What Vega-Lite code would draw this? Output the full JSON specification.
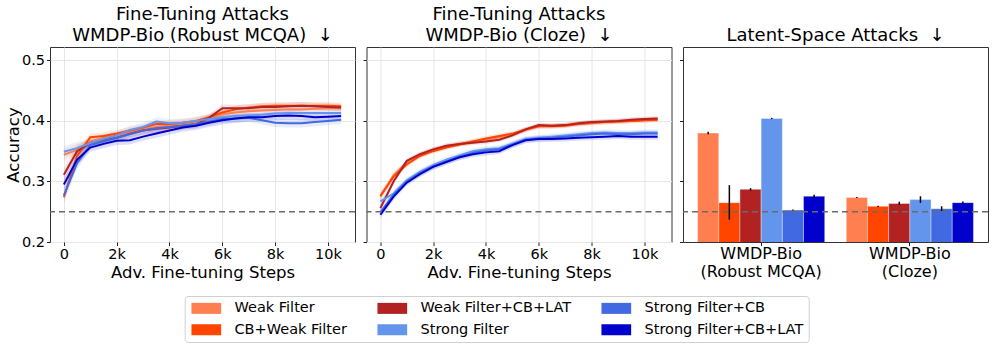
{
"$schema":"https://vega.github.io/schema/vega-lite/v6.json",
"padding":{"left":4,"top":5,"right":5,"bottom":5},
"config":{"font":"DejaVu Sans","view":{"stroke":"#333","strokeWidth":1},
"axis":{"labelFontSize":14.5,"titleFontSize":16.5,"labelColor":"#000","titleColor":"#000","tickColor":"#222","titleFontWeight":"normal","gridColor":"#e6e6e6","domain":false,"tickSize":3.5,"labelPadding":2,"titlePadding":3},
"title":{"fontSize":18,"fontWeight":"normal","color":"#000","offset":2,"lineHeight":21}},
"spacing":11.5,
"bounds":"flush",
"resolve":{"scale":{"color":"shared"}},
"datasets":{
"lines":[
{"panel":"mcqa","model":"Weak Filter","step":0,"acc":0.344,"ci":0.01},{"panel":"mcqa","model":"Weak Filter","step":500,"acc":0.352,"ci":0.01},{"panel":"mcqa","model":"Weak Filter","step":1000,"acc":0.366,"ci":0.006},{"panel":"mcqa","model":"Weak Filter","step":1500,"acc":0.372,"ci":0.006},{"panel":"mcqa","model":"Weak Filter","step":2000,"acc":0.376,"ci":0.006},{"panel":"mcqa","model":"Weak Filter","step":2500,"acc":0.382,"ci":0.006},{"panel":"mcqa","model":"Weak Filter","step":3000,"acc":0.386,"ci":0.006},{"panel":"mcqa","model":"Weak Filter","step":3500,"acc":0.390,"ci":0.006},{"panel":"mcqa","model":"Weak Filter","step":4000,"acc":0.392,"ci":0.006},{"panel":"mcqa","model":"Weak Filter","step":4500,"acc":0.395,"ci":0.006},{"panel":"mcqa","model":"Weak Filter","step":5000,"acc":0.398,"ci":0.006},{"panel":"mcqa","model":"Weak Filter","step":5500,"acc":0.404,"ci":0.006},{"panel":"mcqa","model":"Weak Filter","step":6000,"acc":0.411,"ci":0.006},{"panel":"mcqa","model":"Weak Filter","step":6500,"acc":0.414,"ci":0.006},{"panel":"mcqa","model":"Weak Filter","step":7000,"acc":0.416,"ci":0.006},{"panel":"mcqa","model":"Weak Filter","step":7500,"acc":0.417,"ci":0.006},{"panel":"mcqa","model":"Weak Filter","step":8000,"acc":0.418,"ci":0.006},{"panel":"mcqa","model":"Weak Filter","step":8500,"acc":0.419,"ci":0.006},{"panel":"mcqa","model":"Weak Filter","step":9000,"acc":0.419,"ci":0.006},{"panel":"mcqa","model":"Weak Filter","step":9500,"acc":0.420,"ci":0.006},{"panel":"mcqa","model":"Weak Filter","step":10000,"acc":0.421,"ci":0.006},{"panel":"mcqa","model":"Weak Filter","step":10500,"acc":0.421,"ci":0.006},
{"panel":"mcqa","model":"CB+Weak Filter","step":0,"acc":0.274,"ci":0.01},{"panel":"mcqa","model":"CB+Weak Filter","step":500,"acc":0.342,"ci":0.01},{"panel":"mcqa","model":"CB+Weak Filter","step":1000,"acc":0.373,"ci":0.006},{"panel":"mcqa","model":"CB+Weak Filter","step":1500,"acc":0.375,"ci":0.006},{"panel":"mcqa","model":"CB+Weak Filter","step":2000,"acc":0.379,"ci":0.006},{"panel":"mcqa","model":"CB+Weak Filter","step":2500,"acc":0.384,"ci":0.006},{"panel":"mcqa","model":"CB+Weak Filter","step":3000,"acc":0.389,"ci":0.006},{"panel":"mcqa","model":"CB+Weak Filter","step":3500,"acc":0.395,"ci":0.006},{"panel":"mcqa","model":"CB+Weak Filter","step":4000,"acc":0.395,"ci":0.006},{"panel":"mcqa","model":"CB+Weak Filter","step":4500,"acc":0.397,"ci":0.006},{"panel":"mcqa","model":"CB+Weak Filter","step":5000,"acc":0.400,"ci":0.006},{"panel":"mcqa","model":"CB+Weak Filter","step":5500,"acc":0.406,"ci":0.006},{"panel":"mcqa","model":"CB+Weak Filter","step":6000,"acc":0.414,"ci":0.006},{"panel":"mcqa","model":"CB+Weak Filter","step":6500,"acc":0.419,"ci":0.006},{"panel":"mcqa","model":"CB+Weak Filter","step":7000,"acc":0.422,"ci":0.006},{"panel":"mcqa","model":"CB+Weak Filter","step":7500,"acc":0.424,"ci":0.006},{"panel":"mcqa","model":"CB+Weak Filter","step":8000,"acc":0.425,"ci":0.006},{"panel":"mcqa","model":"CB+Weak Filter","step":8500,"acc":0.425,"ci":0.006},{"panel":"mcqa","model":"CB+Weak Filter","step":9000,"acc":0.425,"ci":0.006},{"panel":"mcqa","model":"CB+Weak Filter","step":9500,"acc":0.425,"ci":0.006},{"panel":"mcqa","model":"CB+Weak Filter","step":10000,"acc":0.425,"ci":0.006},{"panel":"mcqa","model":"CB+Weak Filter","step":10500,"acc":0.424,"ci":0.006},
{"panel":"mcqa","model":"Weak Filter+CB+LAT","step":0,"acc":0.311,"ci":0.01},{"panel":"mcqa","model":"Weak Filter+CB+LAT","step":500,"acc":0.350,"ci":0.01},{"panel":"mcqa","model":"Weak Filter+CB+LAT","step":1000,"acc":0.363,"ci":0.006},{"panel":"mcqa","model":"Weak Filter+CB+LAT","step":1500,"acc":0.368,"ci":0.006},{"panel":"mcqa","model":"Weak Filter+CB+LAT","step":2000,"acc":0.372,"ci":0.006},{"panel":"mcqa","model":"Weak Filter+CB+LAT","step":2500,"acc":0.379,"ci":0.006},{"panel":"mcqa","model":"Weak Filter+CB+LAT","step":3000,"acc":0.384,"ci":0.006},{"panel":"mcqa","model":"Weak Filter+CB+LAT","step":3500,"acc":0.387,"ci":0.006},{"panel":"mcqa","model":"Weak Filter+CB+LAT","step":4000,"acc":0.389,"ci":0.006},{"panel":"mcqa","model":"Weak Filter+CB+LAT","step":4500,"acc":0.392,"ci":0.006},{"panel":"mcqa","model":"Weak Filter+CB+LAT","step":5000,"acc":0.394,"ci":0.006},{"panel":"mcqa","model":"Weak Filter+CB+LAT","step":5500,"acc":0.405,"ci":0.006},{"panel":"mcqa","model":"Weak Filter+CB+LAT","step":6000,"acc":0.421,"ci":0.006},{"panel":"mcqa","model":"Weak Filter+CB+LAT","step":6500,"acc":0.421,"ci":0.006},{"panel":"mcqa","model":"Weak Filter+CB+LAT","step":7000,"acc":0.421,"ci":0.006},{"panel":"mcqa","model":"Weak Filter+CB+LAT","step":7500,"acc":0.423,"ci":0.006},{"panel":"mcqa","model":"Weak Filter+CB+LAT","step":8000,"acc":0.423,"ci":0.006},{"panel":"mcqa","model":"Weak Filter+CB+LAT","step":8500,"acc":0.424,"ci":0.006},{"panel":"mcqa","model":"Weak Filter+CB+LAT","step":9000,"acc":0.425,"ci":0.006},{"panel":"mcqa","model":"Weak Filter+CB+LAT","step":9500,"acc":0.424,"ci":0.006},{"panel":"mcqa","model":"Weak Filter+CB+LAT","step":10000,"acc":0.423,"ci":0.006},{"panel":"mcqa","model":"Weak Filter+CB+LAT","step":10500,"acc":0.422,"ci":0.006},
{"panel":"mcqa","model":"Strong Filter","step":0,"acc":0.349,"ci":0.01},{"panel":"mcqa","model":"Strong Filter","step":500,"acc":0.355,"ci":0.01},{"panel":"mcqa","model":"Strong Filter","step":1000,"acc":0.363,"ci":0.007},{"panel":"mcqa","model":"Strong Filter","step":1500,"acc":0.370,"ci":0.007},{"panel":"mcqa","model":"Strong Filter","step":2000,"acc":0.376,"ci":0.007},{"panel":"mcqa","model":"Strong Filter","step":2500,"acc":0.385,"ci":0.007},{"panel":"mcqa","model":"Strong Filter","step":3000,"acc":0.390,"ci":0.007},{"panel":"mcqa","model":"Strong Filter","step":3500,"acc":0.399,"ci":0.007},{"panel":"mcqa","model":"Strong Filter","step":4000,"acc":0.396,"ci":0.007},{"panel":"mcqa","model":"Strong Filter","step":4500,"acc":0.397,"ci":0.007},{"panel":"mcqa","model":"Strong Filter","step":5000,"acc":0.400,"ci":0.007},{"panel":"mcqa","model":"Strong Filter","step":5500,"acc":0.403,"ci":0.007},{"panel":"mcqa","model":"Strong Filter","step":6000,"acc":0.406,"ci":0.007},{"panel":"mcqa","model":"Strong Filter","step":6500,"acc":0.408,"ci":0.007},{"panel":"mcqa","model":"Strong Filter","step":7000,"acc":0.409,"ci":0.007},{"panel":"mcqa","model":"Strong Filter","step":7500,"acc":0.410,"ci":0.007},{"panel":"mcqa","model":"Strong Filter","step":8000,"acc":0.412,"ci":0.007},{"panel":"mcqa","model":"Strong Filter","step":8500,"acc":0.413,"ci":0.007},{"panel":"mcqa","model":"Strong Filter","step":9000,"acc":0.413,"ci":0.007},{"panel":"mcqa","model":"Strong Filter","step":9500,"acc":0.413,"ci":0.007},{"panel":"mcqa","model":"Strong Filter","step":10000,"acc":0.413,"ci":0.007},{"panel":"mcqa","model":"Strong Filter","step":10500,"acc":0.413,"ci":0.007},
{"panel":"mcqa","model":"Strong Filter+CB","step":0,"acc":0.277,"ci":0.01},{"panel":"mcqa","model":"Strong Filter+CB","step":500,"acc":0.330,"ci":0.01},{"panel":"mcqa","model":"Strong Filter+CB","step":1000,"acc":0.360,"ci":0.007},{"panel":"mcqa","model":"Strong Filter+CB","step":1500,"acc":0.366,"ci":0.007},{"panel":"mcqa","model":"Strong Filter+CB","step":2000,"acc":0.372,"ci":0.007},{"panel":"mcqa","model":"Strong Filter+CB","step":2500,"acc":0.378,"ci":0.007},{"panel":"mcqa","model":"Strong Filter+CB","step":3000,"acc":0.384,"ci":0.007},{"panel":"mcqa","model":"Strong Filter+CB","step":3500,"acc":0.388,"ci":0.007},{"panel":"mcqa","model":"Strong Filter+CB","step":4000,"acc":0.390,"ci":0.007},{"panel":"mcqa","model":"Strong Filter+CB","step":4500,"acc":0.392,"ci":0.007},{"panel":"mcqa","model":"Strong Filter+CB","step":5000,"acc":0.395,"ci":0.007},{"panel":"mcqa","model":"Strong Filter+CB","step":5500,"acc":0.399,"ci":0.007},{"panel":"mcqa","model":"Strong Filter+CB","step":6000,"acc":0.403,"ci":0.007},{"panel":"mcqa","model":"Strong Filter+CB","step":6500,"acc":0.404,"ci":0.007},{"panel":"mcqa","model":"Strong Filter+CB","step":7000,"acc":0.405,"ci":0.007},{"panel":"mcqa","model":"Strong Filter+CB","step":7500,"acc":0.401,"ci":0.007},{"panel":"mcqa","model":"Strong Filter+CB","step":8000,"acc":0.397,"ci":0.007},{"panel":"mcqa","model":"Strong Filter+CB","step":8500,"acc":0.396,"ci":0.007},{"panel":"mcqa","model":"Strong Filter+CB","step":9000,"acc":0.396,"ci":0.007},{"panel":"mcqa","model":"Strong Filter+CB","step":9500,"acc":0.398,"ci":0.007},{"panel":"mcqa","model":"Strong Filter+CB","step":10000,"acc":0.400,"ci":0.007},{"panel":"mcqa","model":"Strong Filter+CB","step":10500,"acc":0.402,"ci":0.007},
{"panel":"mcqa","model":"Strong Filter+CB+LAT","step":0,"acc":0.295,"ci":0.01},{"panel":"mcqa","model":"Strong Filter+CB+LAT","step":500,"acc":0.336,"ci":0.01},{"panel":"mcqa","model":"Strong Filter+CB+LAT","step":1000,"acc":0.356,"ci":0.007},{"panel":"mcqa","model":"Strong Filter+CB+LAT","step":1500,"acc":0.362,"ci":0.007},{"panel":"mcqa","model":"Strong Filter+CB+LAT","step":2000,"acc":0.367,"ci":0.007},{"panel":"mcqa","model":"Strong Filter+CB+LAT","step":2500,"acc":0.368,"ci":0.007},{"panel":"mcqa","model":"Strong Filter+CB+LAT","step":3000,"acc":0.374,"ci":0.007},{"panel":"mcqa","model":"Strong Filter+CB+LAT","step":3500,"acc":0.379,"ci":0.007},{"panel":"mcqa","model":"Strong Filter+CB+LAT","step":4000,"acc":0.384,"ci":0.007},{"panel":"mcqa","model":"Strong Filter+CB+LAT","step":4500,"acc":0.389,"ci":0.007},{"panel":"mcqa","model":"Strong Filter+CB+LAT","step":5000,"acc":0.392,"ci":0.007},{"panel":"mcqa","model":"Strong Filter+CB+LAT","step":5500,"acc":0.397,"ci":0.007},{"panel":"mcqa","model":"Strong Filter+CB+LAT","step":6000,"acc":0.401,"ci":0.007},{"panel":"mcqa","model":"Strong Filter+CB+LAT","step":6500,"acc":0.404,"ci":0.007},{"panel":"mcqa","model":"Strong Filter+CB+LAT","step":7000,"acc":0.406,"ci":0.007},{"panel":"mcqa","model":"Strong Filter+CB+LAT","step":7500,"acc":0.406,"ci":0.007},{"panel":"mcqa","model":"Strong Filter+CB+LAT","step":8000,"acc":0.408,"ci":0.007},{"panel":"mcqa","model":"Strong Filter+CB+LAT","step":8500,"acc":0.409,"ci":0.007},{"panel":"mcqa","model":"Strong Filter+CB+LAT","step":9000,"acc":0.408,"ci":0.007},{"panel":"mcqa","model":"Strong Filter+CB+LAT","step":9500,"acc":0.406,"ci":0.007},{"panel":"mcqa","model":"Strong Filter+CB+LAT","step":10000,"acc":0.407,"ci":0.007},{"panel":"mcqa","model":"Strong Filter+CB+LAT","step":10500,"acc":0.408,"ci":0.007},
{"panel":"cloze","model":"Weak Filter","step":0,"acc":0.275,"ci":0.006},{"panel":"cloze","model":"Weak Filter","step":500,"acc":0.310,"ci":0.006},{"panel":"cloze","model":"Weak Filter","step":1000,"acc":0.332,"ci":0.004},{"panel":"cloze","model":"Weak Filter","step":1500,"acc":0.344,"ci":0.004},{"panel":"cloze","model":"Weak Filter","step":2000,"acc":0.352,"ci":0.004},{"panel":"cloze","model":"Weak Filter","step":2500,"acc":0.358,"ci":0.004},{"panel":"cloze","model":"Weak Filter","step":3000,"acc":0.362,"ci":0.004},{"panel":"cloze","model":"Weak Filter","step":3500,"acc":0.366,"ci":0.004},{"panel":"cloze","model":"Weak Filter","step":4000,"acc":0.369,"ci":0.004},{"panel":"cloze","model":"Weak Filter","step":4500,"acc":0.373,"ci":0.004},{"panel":"cloze","model":"Weak Filter","step":5000,"acc":0.377,"ci":0.004},{"panel":"cloze","model":"Weak Filter","step":5500,"acc":0.385,"ci":0.004},{"panel":"cloze","model":"Weak Filter","step":6000,"acc":0.391,"ci":0.004},{"panel":"cloze","model":"Weak Filter","step":6500,"acc":0.392,"ci":0.004},{"panel":"cloze","model":"Weak Filter","step":7000,"acc":0.393,"ci":0.004},{"panel":"cloze","model":"Weak Filter","step":7500,"acc":0.395,"ci":0.004},{"panel":"cloze","model":"Weak Filter","step":8000,"acc":0.396,"ci":0.004},{"panel":"cloze","model":"Weak Filter","step":8500,"acc":0.398,"ci":0.004},{"panel":"cloze","model":"Weak Filter","step":9000,"acc":0.399,"ci":0.004},{"panel":"cloze","model":"Weak Filter","step":9500,"acc":0.400,"ci":0.004},{"panel":"cloze","model":"Weak Filter","step":10000,"acc":0.401,"ci":0.004},{"panel":"cloze","model":"Weak Filter","step":10500,"acc":0.402,"ci":0.004},
{"panel":"cloze","model":"CB+Weak Filter","step":0,"acc":0.276,"ci":0.006},{"panel":"cloze","model":"CB+Weak Filter","step":500,"acc":0.308,"ci":0.006},{"panel":"cloze","model":"CB+Weak Filter","step":1000,"acc":0.328,"ci":0.004},{"panel":"cloze","model":"CB+Weak Filter","step":1500,"acc":0.342,"ci":0.004},{"panel":"cloze","model":"CB+Weak Filter","step":2000,"acc":0.350,"ci":0.004},{"panel":"cloze","model":"CB+Weak Filter","step":2500,"acc":0.356,"ci":0.004},{"panel":"cloze","model":"CB+Weak Filter","step":3000,"acc":0.361,"ci":0.004},{"panel":"cloze","model":"CB+Weak Filter","step":3500,"acc":0.366,"ci":0.004},{"panel":"cloze","model":"CB+Weak Filter","step":4000,"acc":0.371,"ci":0.004},{"panel":"cloze","model":"CB+Weak Filter","step":4500,"acc":0.375,"ci":0.004},{"panel":"cloze","model":"CB+Weak Filter","step":5000,"acc":0.379,"ci":0.004},{"panel":"cloze","model":"CB+Weak Filter","step":5500,"acc":0.386,"ci":0.004},{"panel":"cloze","model":"CB+Weak Filter","step":6000,"acc":0.391,"ci":0.004},{"panel":"cloze","model":"CB+Weak Filter","step":6500,"acc":0.391,"ci":0.004},{"panel":"cloze","model":"CB+Weak Filter","step":7000,"acc":0.392,"ci":0.004},{"panel":"cloze","model":"CB+Weak Filter","step":7500,"acc":0.395,"ci":0.004},{"panel":"cloze","model":"CB+Weak Filter","step":8000,"acc":0.397,"ci":0.004},{"panel":"cloze","model":"CB+Weak Filter","step":8500,"acc":0.398,"ci":0.004},{"panel":"cloze","model":"CB+Weak Filter","step":9000,"acc":0.399,"ci":0.004},{"panel":"cloze","model":"CB+Weak Filter","step":9500,"acc":0.400,"ci":0.004},{"panel":"cloze","model":"CB+Weak Filter","step":10000,"acc":0.401,"ci":0.004},{"panel":"cloze","model":"CB+Weak Filter","step":10500,"acc":0.402,"ci":0.004},
{"panel":"cloze","model":"Weak Filter+CB+LAT","step":0,"acc":0.256,"ci":0.006},{"panel":"cloze","model":"Weak Filter+CB+LAT","step":500,"acc":0.300,"ci":0.006},{"panel":"cloze","model":"Weak Filter+CB+LAT","step":1000,"acc":0.334,"ci":0.004},{"panel":"cloze","model":"Weak Filter+CB+LAT","step":1500,"acc":0.345,"ci":0.004},{"panel":"cloze","model":"Weak Filter+CB+LAT","step":2000,"acc":0.353,"ci":0.004},{"panel":"cloze","model":"Weak Filter+CB+LAT","step":2500,"acc":0.359,"ci":0.004},{"panel":"cloze","model":"Weak Filter+CB+LAT","step":3000,"acc":0.362,"ci":0.004},{"panel":"cloze","model":"Weak Filter+CB+LAT","step":3500,"acc":0.364,"ci":0.004},{"panel":"cloze","model":"Weak Filter+CB+LAT","step":4000,"acc":0.366,"ci":0.004},{"panel":"cloze","model":"Weak Filter+CB+LAT","step":4500,"acc":0.369,"ci":0.004},{"panel":"cloze","model":"Weak Filter+CB+LAT","step":5000,"acc":0.376,"ci":0.004},{"panel":"cloze","model":"Weak Filter+CB+LAT","step":5500,"acc":0.386,"ci":0.004},{"panel":"cloze","model":"Weak Filter+CB+LAT","step":6000,"acc":0.393,"ci":0.004},{"panel":"cloze","model":"Weak Filter+CB+LAT","step":6500,"acc":0.392,"ci":0.004},{"panel":"cloze","model":"Weak Filter+CB+LAT","step":7000,"acc":0.393,"ci":0.004},{"panel":"cloze","model":"Weak Filter+CB+LAT","step":7500,"acc":0.396,"ci":0.004},{"panel":"cloze","model":"Weak Filter+CB+LAT","step":8000,"acc":0.398,"ci":0.004},{"panel":"cloze","model":"Weak Filter+CB+LAT","step":8500,"acc":0.399,"ci":0.004},{"panel":"cloze","model":"Weak Filter+CB+LAT","step":9000,"acc":0.400,"ci":0.004},{"panel":"cloze","model":"Weak Filter+CB+LAT","step":9500,"acc":0.402,"ci":0.004},{"panel":"cloze","model":"Weak Filter+CB+LAT","step":10000,"acc":0.403,"ci":0.004},{"panel":"cloze","model":"Weak Filter+CB+LAT","step":10500,"acc":0.404,"ci":0.004},
{"panel":"cloze","model":"Strong Filter","step":0,"acc":0.267,"ci":0.006},{"panel":"cloze","model":"Strong Filter","step":500,"acc":0.280,"ci":0.006},{"panel":"cloze","model":"Strong Filter","step":1000,"acc":0.302,"ci":0.005},{"panel":"cloze","model":"Strong Filter","step":1500,"acc":0.316,"ci":0.005},{"panel":"cloze","model":"Strong Filter","step":2000,"acc":0.327,"ci":0.005},{"panel":"cloze","model":"Strong Filter","step":2500,"acc":0.336,"ci":0.005},{"panel":"cloze","model":"Strong Filter","step":3000,"acc":0.343,"ci":0.005},{"panel":"cloze","model":"Strong Filter","step":3500,"acc":0.350,"ci":0.005},{"panel":"cloze","model":"Strong Filter","step":4000,"acc":0.353,"ci":0.005},{"panel":"cloze","model":"Strong Filter","step":4500,"acc":0.355,"ci":0.005},{"panel":"cloze","model":"Strong Filter","step":5000,"acc":0.362,"ci":0.005},{"panel":"cloze","model":"Strong Filter","step":5500,"acc":0.370,"ci":0.005},{"panel":"cloze","model":"Strong Filter","step":6000,"acc":0.372,"ci":0.005},{"panel":"cloze","model":"Strong Filter","step":6500,"acc":0.374,"ci":0.005},{"panel":"cloze","model":"Strong Filter","step":7000,"acc":0.376,"ci":0.005},{"panel":"cloze","model":"Strong Filter","step":7500,"acc":0.378,"ci":0.005},{"panel":"cloze","model":"Strong Filter","step":8000,"acc":0.380,"ci":0.005},{"panel":"cloze","model":"Strong Filter","step":8500,"acc":0.381,"ci":0.005},{"panel":"cloze","model":"Strong Filter","step":9000,"acc":0.380,"ci":0.005},{"panel":"cloze","model":"Strong Filter","step":9500,"acc":0.380,"ci":0.005},{"panel":"cloze","model":"Strong Filter","step":10000,"acc":0.381,"ci":0.005},{"panel":"cloze","model":"Strong Filter","step":10500,"acc":0.381,"ci":0.005},
{"panel":"cloze","model":"Strong Filter+CB","step":0,"acc":0.249,"ci":0.006},{"panel":"cloze","model":"Strong Filter+CB","step":500,"acc":0.278,"ci":0.006},{"panel":"cloze","model":"Strong Filter+CB","step":1000,"acc":0.300,"ci":0.005},{"panel":"cloze","model":"Strong Filter+CB","step":1500,"acc":0.314,"ci":0.005},{"panel":"cloze","model":"Strong Filter+CB","step":2000,"acc":0.325,"ci":0.005},{"panel":"cloze","model":"Strong Filter+CB","step":2500,"acc":0.333,"ci":0.005},{"panel":"cloze","model":"Strong Filter+CB","step":3000,"acc":0.341,"ci":0.005},{"panel":"cloze","model":"Strong Filter+CB","step":3500,"acc":0.347,"ci":0.005},{"panel":"cloze","model":"Strong Filter+CB","step":4000,"acc":0.351,"ci":0.005},{"panel":"cloze","model":"Strong Filter+CB","step":4500,"acc":0.353,"ci":0.005},{"panel":"cloze","model":"Strong Filter+CB","step":5000,"acc":0.361,"ci":0.005},{"panel":"cloze","model":"Strong Filter+CB","step":5500,"acc":0.369,"ci":0.005},{"panel":"cloze","model":"Strong Filter+CB","step":6000,"acc":0.371,"ci":0.005},{"panel":"cloze","model":"Strong Filter+CB","step":6500,"acc":0.372,"ci":0.005},{"panel":"cloze","model":"Strong Filter+CB","step":7000,"acc":0.374,"ci":0.005},{"panel":"cloze","model":"Strong Filter+CB","step":7500,"acc":0.376,"ci":0.005},{"panel":"cloze","model":"Strong Filter+CB","step":8000,"acc":0.378,"ci":0.005},{"panel":"cloze","model":"Strong Filter+CB","step":8500,"acc":0.379,"ci":0.005},{"panel":"cloze","model":"Strong Filter+CB","step":9000,"acc":0.378,"ci":0.005},{"panel":"cloze","model":"Strong Filter+CB","step":9500,"acc":0.378,"ci":0.005},{"panel":"cloze","model":"Strong Filter+CB","step":10000,"acc":0.379,"ci":0.005},{"panel":"cloze","model":"Strong Filter+CB","step":10500,"acc":0.379,"ci":0.005},
{"panel":"cloze","model":"Strong Filter+CB+LAT","step":0,"acc":0.245,"ci":0.006},{"panel":"cloze","model":"Strong Filter+CB+LAT","step":500,"acc":0.275,"ci":0.006},{"panel":"cloze","model":"Strong Filter+CB+LAT","step":1000,"acc":0.298,"ci":0.005},{"panel":"cloze","model":"Strong Filter+CB+LAT","step":1500,"acc":0.312,"ci":0.005},{"panel":"cloze","model":"Strong Filter+CB+LAT","step":2000,"acc":0.324,"ci":0.005},{"panel":"cloze","model":"Strong Filter+CB+LAT","step":2500,"acc":0.332,"ci":0.005},{"panel":"cloze","model":"Strong Filter+CB+LAT","step":3000,"acc":0.340,"ci":0.005},{"panel":"cloze","model":"Strong Filter+CB+LAT","step":3500,"acc":0.345,"ci":0.005},{"panel":"cloze","model":"Strong Filter+CB+LAT","step":4000,"acc":0.348,"ci":0.005},{"panel":"cloze","model":"Strong Filter+CB+LAT","step":4500,"acc":0.350,"ci":0.005},{"panel":"cloze","model":"Strong Filter+CB+LAT","step":5000,"acc":0.360,"ci":0.005},{"panel":"cloze","model":"Strong Filter+CB+LAT","step":5500,"acc":0.368,"ci":0.005},{"panel":"cloze","model":"Strong Filter+CB+LAT","step":6000,"acc":0.370,"ci":0.005},{"panel":"cloze","model":"Strong Filter+CB+LAT","step":6500,"acc":0.370,"ci":0.005},{"panel":"cloze","model":"Strong Filter+CB+LAT","step":7000,"acc":0.371,"ci":0.005},{"panel":"cloze","model":"Strong Filter+CB+LAT","step":7500,"acc":0.372,"ci":0.005},{"panel":"cloze","model":"Strong Filter+CB+LAT","step":8000,"acc":0.373,"ci":0.005},{"panel":"cloze","model":"Strong Filter+CB+LAT","step":8500,"acc":0.374,"ci":0.005},{"panel":"cloze","model":"Strong Filter+CB+LAT","step":9000,"acc":0.375,"ci":0.005},{"panel":"cloze","model":"Strong Filter+CB+LAT","step":9500,"acc":0.374,"ci":0.005},{"panel":"cloze","model":"Strong Filter+CB+LAT","step":10000,"acc":0.374,"ci":0.005},{"panel":"cloze","model":"Strong Filter+CB+LAT","step":10500,"acc":0.374,"ci":0.005}
],
"bars":[
{"bench":"Robust MCQA","model":"Weak Filter","acc":0.380,"lo":0.378,"hi":0.382},
{"bench":"Robust MCQA","model":"CB+Weak Filter","acc":0.265,"lo":0.237,"hi":0.294},
{"bench":"Robust MCQA","model":"Weak Filter+CB+LAT","acc":0.287,"lo":0.285,"hi":0.289},
{"bench":"Robust MCQA","model":"Strong Filter","acc":0.404,"lo":0.403,"hi":0.405},
{"bench":"Robust MCQA","model":"Strong Filter+CB","acc":0.2527,"lo":0.252,"hi":0.2535},
{"bench":"Robust MCQA","model":"Strong Filter+CB+LAT","acc":0.2757,"lo":0.273,"hi":0.278},
{"bench":"Cloze","model":"Weak Filter","acc":0.2735,"lo":0.2725,"hi":0.2745},
{"bench":"Cloze","model":"CB+Weak Filter","acc":0.259,"lo":0.258,"hi":0.260},
{"bench":"Cloze","model":"Weak Filter+CB+LAT","acc":0.2636,"lo":0.261,"hi":0.2665},
{"bench":"Cloze","model":"Strong Filter","acc":0.270,"lo":0.2645,"hi":0.2755},
{"bench":"Cloze","model":"Strong Filter+CB","acc":0.255,"lo":0.251,"hi":0.259},
{"bench":"Cloze","model":"Strong Filter+CB+LAT","acc":0.265,"lo":0.263,"hi":0.267}
],
"chance":[{"acc":0.25}]
},
"hconcat":[
{
"width":305,"height":195,
"title":{"text":["Fine-Tuning Attacks","WMDP-Bio (Robust MCQA)\u00a0\u00a0↓"]},
"layer":[
{"data":{"name":"lines"},"transform":[{"filter":"datum.panel == 'mcqa'"}],
"mark":{"type":"errorband","opacity":0.13},
"encoding":{
"x":{"field":"step","type":"quantitative","scale":{"domain":[-525,11025],"nice":false,"zero":false},"axis":{"values":[0,2000,4000,6000,8000,10000],"labelExpr":"datum.value == 0 ? '0' : (datum.value/1000) + 'k'","title":"Adv. Fine-tuning Steps","grid":true}},
"y":{"field":"acc","type":"quantitative","scale":{"domain":[0.2,0.522],"nice":false,"zero":false},"axis":{"values":[0.2,0.25,0.3,0.35,0.4,0.45,0.5],"labelExpr":"abs(datum.value*10 - round(datum.value*10)) < 0.01 ? format(datum.value, '.1f') : ''","title":"Accuracy","titlePadding":0,"grid":true}},
"yError":{"field":"ci"},
"color":{"field":"model","type":"nominal","scale":{"domain":["Weak Filter","CB+Weak Filter","Weak Filter+CB+LAT","Strong Filter","Strong Filter+CB","Strong Filter+CB+LAT"],"range":["#FF7F50","#FF4500","#B22222","#6495ED","#4169E1","#0000CD"]},
"legend":{"orient":"none","legendX":134.7,"legendY":249,"columns":3,"title":null,"symbolType":"M-1,-1H4.4V1H-1Z","symbolSize":121,"symbolStrokeWidth":0,"symbolOpacity":1,"labelFontSize":14.5,"labelColor":"#000","labelLimit":0,"strokeColor":"#d0d0d0","cornerRadius":3,"padding":5,"fillColor":"white","columnPadding":28,"rowPadding":6.5,"labelOffset":30.3,
"encode":{"symbols":{"update":{"fill":{"scale":"color","field":"value"},"stroke":{"value":"transparent"},"opacity":{"value":1},"fillOpacity":{"value":1}}}}}}
}},
{"data":{"name":"lines"},"transform":[{"filter":"datum.panel == 'mcqa'"}],
"mark":{"type":"line","strokeWidth":2,"clip":true},
"encoding":{"x":{"field":"step","type":"quantitative"},"y":{"field":"acc","type":"quantitative"},"color":{"field":"model","type":"nominal"}}},
{"data":{"name":"chance"},"mark":{"type":"rule","strokeDash":[6,4],"color":"#6b6b6b","strokeWidth":1.5},"encoding":{"y":{"field":"acc","type":"quantitative"}}}
]
},
{
"width":305,"height":195,
"title":{"text":["Fine-Tuning Attacks","WMDP-Bio (Cloze)\u00a0\u00a0↓"]},
"layer":[
{"data":{"name":"lines"},"transform":[{"filter":"datum.panel == 'cloze'"}],
"mark":{"type":"errorband","opacity":0.13},
"encoding":{
"x":{"field":"step","type":"quantitative","scale":{"domain":[-525,11025],"nice":false,"zero":false},"axis":{"values":[0,2000,4000,6000,8000,10000],"labelExpr":"datum.value == 0 ? '0' : (datum.value/1000) + 'k'","title":"Adv. Fine-tuning Steps","grid":true}},
"y":{"field":"acc","type":"quantitative","scale":{"domain":[0.2,0.522],"nice":false,"zero":false},"axis":{"values":[0.2,0.25,0.3,0.35,0.4,0.45,0.5],"labels":false,"title":null,"grid":true}},
"yError":{"field":"ci"},
"color":{"field":"model","type":"nominal"}
}},
{"data":{"name":"lines"},"transform":[{"filter":"datum.panel == 'cloze'"}],
"mark":{"type":"line","strokeWidth":2,"clip":true},
"encoding":{"x":{"field":"step","type":"quantitative"},"y":{"field":"acc","type":"quantitative"},"color":{"field":"model","type":"nominal"}}},
{"data":{"name":"chance"},"mark":{"type":"rule","strokeDash":[6,4],"color":"#6b6b6b","strokeWidth":1.5},"encoding":{"y":{"field":"acc","type":"quantitative"}}}
]
},
{
"width":305,"height":195,
"title":{"text":"Latent-Space Attacks\u00a0\u00a0↓"},
"layer":[
{"data":{"name":"bars"},
"mark":{"type":"bar","clip":true,"stroke":"#ffffff","strokeOpacity":0.6,"strokeWidth":0.6},
"encoding":{
"x":{"field":"bench","type":"nominal","sort":["Robust MCQA","Cloze"],"scale":{"paddingInner":0.145,"paddingOuter":0.098},"axis":{"title":null,"labelAngle":0,"labelFontSize":16,"labelLineHeight":17.5,"labelPadding":0,"labelExpr":"datum.value == 'Cloze' ? ['WMDP-Bio','(Cloze)'] : ['WMDP-Bio','(Robust MCQA)']"}},
"xOffset":{"field":"model","type":"nominal","sort":["Weak Filter","CB+Weak Filter","Weak Filter+CB+LAT","Strong Filter","Strong Filter+CB","Strong Filter+CB+LAT"],"scale":{"paddingInner":0,"paddingOuter":0}},
"y":{"field":"acc","type":"quantitative","scale":{"domain":[0.2,0.522],"nice":false,"zero":false},"axis":{"values":[0.2,0.25,0.3,0.35,0.4,0.45,0.5],"labels":false,"title":null,"grid":false}},
"color":{"field":"model","type":"nominal"}
}},
{"data":{"name":"bars"},
"mark":{"type":"rule","color":"#000","strokeWidth":1.5},
"encoding":{
"x":{"field":"bench","type":"nominal","sort":["Robust MCQA","Cloze"]},
"xOffset":{"field":"model","type":"nominal","sort":["Weak Filter","CB+Weak Filter","Weak Filter+CB+LAT","Strong Filter","Strong Filter+CB","Strong Filter+CB+LAT"]},
"y":{"field":"lo","type":"quantitative"},"y2":{"field":"hi"}}},
{"data":{"name":"chance"},"mark":{"type":"rule","strokeDash":[6,4],"color":"#6b6b6b","strokeWidth":1.5},"encoding":{"y":{"field":"acc","type":"quantitative"}}}
]
}
]
}
